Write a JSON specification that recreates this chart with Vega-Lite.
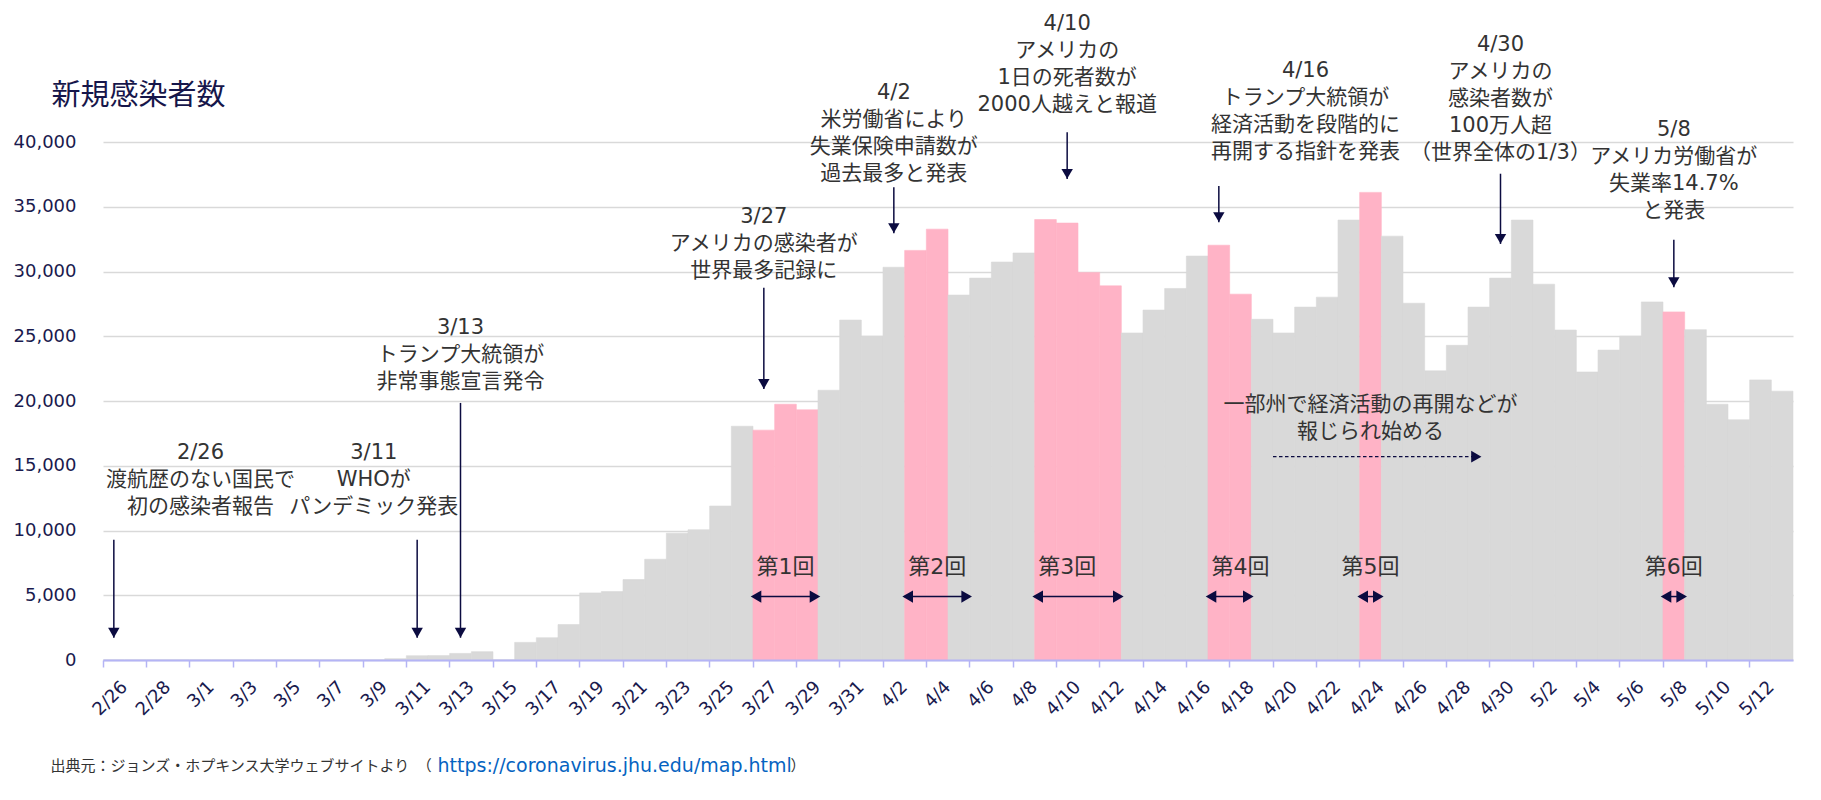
{
  "$schema": "https://vega.github.io/schema/vega-lite/v6.json",
  "width": 1690,
  "height": 518,
  "autosize": {"type": "none"},
  "padding": {"left": 103, "top": 142, "right": 28, "bottom": 140},
  "background": "white",
  "config": {
    "view": {"stroke": null},
    "font": "DejaVu Sans, Noto Sans CJK JP"
  },
  "datasets": {
    "cases": [
      {"date": "2/26", "cases": 0, "period": ""},
      {"date": "2/27", "cases": 0, "period": ""},
      {"date": "2/28", "cases": 0, "period": ""},
      {"date": "2/29", "cases": 0, "period": ""},
      {"date": "3/1", "cases": 0, "period": ""},
      {"date": "3/2", "cases": 0, "period": ""},
      {"date": "3/3", "cases": 0, "period": ""},
      {"date": "3/4", "cases": 0, "period": ""},
      {"date": "3/5", "cases": 0, "period": ""},
      {"date": "3/6", "cases": 0, "period": ""},
      {"date": "3/7", "cases": 0, "period": ""},
      {"date": "3/8", "cases": 0, "period": ""},
      {"date": "3/9", "cases": 0, "period": ""},
      {"date": "3/10", "cases": 100, "period": ""},
      {"date": "3/11", "cases": 330, "period": ""},
      {"date": "3/12", "cases": 340, "period": ""},
      {"date": "3/13", "cases": 510, "period": ""},
      {"date": "3/14", "cases": 640, "period": ""},
      {"date": "3/15", "cases": 0, "period": ""},
      {"date": "3/16", "cases": 1360, "period": ""},
      {"date": "3/17", "cases": 1720, "period": ""},
      {"date": "3/18", "cases": 2740, "period": ""},
      {"date": "3/19", "cases": 5180, "period": ""},
      {"date": "3/20", "cases": 5280, "period": ""},
      {"date": "3/21", "cases": 6210, "period": ""},
      {"date": "3/22", "cases": 7780, "period": ""},
      {"date": "3/23", "cases": 9790, "period": ""},
      {"date": "3/24", "cases": 10060, "period": ""},
      {"date": "3/25", "cases": 11890, "period": ""},
      {"date": "3/26", "cases": 18050, "period": ""},
      {"date": "3/27", "cases": 17750, "period": "第1回"},
      {"date": "3/28", "cases": 19750, "period": "第1回"},
      {"date": "3/29", "cases": 19320, "period": "第1回"},
      {"date": "3/30", "cases": 20830, "period": ""},
      {"date": "3/31", "cases": 26250, "period": ""},
      {"date": "4/1", "cases": 25010, "period": ""},
      {"date": "4/2", "cases": 30330, "period": ""},
      {"date": "4/3", "cases": 31630, "period": "第2回"},
      {"date": "4/4", "cases": 33270, "period": "第2回"},
      {"date": "4/5", "cases": 28180, "period": ""},
      {"date": "4/6", "cases": 29490, "period": ""},
      {"date": "4/7", "cases": 30730, "period": ""},
      {"date": "4/8", "cases": 31430, "period": ""},
      {"date": "4/9", "cases": 34010, "period": "第3回"},
      {"date": "4/10", "cases": 33740, "period": "第3回"},
      {"date": "4/11", "cases": 29930, "period": "第3回"},
      {"date": "4/12", "cases": 28890, "period": "第3回"},
      {"date": "4/13", "cases": 25250, "period": ""},
      {"date": "4/14", "cases": 27020, "period": ""},
      {"date": "4/15", "cases": 28690, "period": ""},
      {"date": "4/16", "cases": 31190, "period": ""},
      {"date": "4/17", "cases": 32030, "period": "第4回"},
      {"date": "4/18", "cases": 28250, "period": "第4回"},
      {"date": "4/19", "cases": 26310, "period": ""},
      {"date": "4/20", "cases": 25250, "period": ""},
      {"date": "4/21", "cases": 27250, "period": ""},
      {"date": "4/22", "cases": 28020, "period": ""},
      {"date": "4/23", "cases": 33970, "period": ""},
      {"date": "4/24", "cases": 36110, "period": "第5回"},
      {"date": "4/25", "cases": 32730, "period": ""},
      {"date": "4/26", "cases": 27550, "period": ""},
      {"date": "4/27", "cases": 22330, "period": ""},
      {"date": "4/28", "cases": 24300, "period": ""},
      {"date": "4/29", "cases": 27250, "period": ""},
      {"date": "4/30", "cases": 29490, "period": ""},
      {"date": "5/1", "cases": 33970, "period": ""},
      {"date": "5/2", "cases": 29020, "period": ""},
      {"date": "5/3", "cases": 25480, "period": ""},
      {"date": "5/4", "cases": 22240, "period": ""},
      {"date": "5/5", "cases": 23930, "period": ""},
      {"date": "5/6", "cases": 25010, "period": ""},
      {"date": "5/7", "cases": 27650, "period": ""},
      {"date": "5/8", "cases": 26880, "period": "第6回"},
      {"date": "5/9", "cases": 25510, "period": ""},
      {"date": "5/10", "cases": 19750, "period": ""},
      {"date": "5/11", "cases": 18550, "period": ""},
      {"date": "5/12", "cases": 21630, "period": ""},
      {"date": "5/13", "cases": 20760, "period": ""}
    ],
    "events": [
      {"event": "2/26", "arrowAt": "2/26", "top": 9280, "tip": 1720, "textAt": "3/1", "textY": 16000, "lines": ["2/26", "渡航歴のない国民で", "初の感染者報告"]},
      {"event": "3/11", "arrowAt": "3/11", "top": 9280, "tip": 1720, "textAt": "3/9", "textY": 16000, "lines": ["3/11", "WHOが", "パンデミック発表"]},
      {"event": "3/13", "arrowAt": "3/13", "top": 19850, "tip": 1720, "textAt": "3/13", "textY": 25660, "lines": ["3/13", "トランプ大統領が", "非常事態宣言発令"]},
      {"event": "3/27", "arrowAt": "3/27", "top": 28750, "tip": 20930, "textAt": "3/27", "textY": 34190, "lines": ["3/27", "アメリカの感染者が", "世界最多記録に"]},
      {"event": "4/2", "arrowAt": "4/2", "top": 36500, "tip": 32960, "textAt": "4/2", "textY": 43800, "lines": ["4/2", "米労働省により", "失業保険申請数が", "過去最多と発表"]},
      {"event": "4/10", "arrowAt": "4/10", "top": 40750, "tip": 37150, "textAt": "4/10", "textY": 49100, "lines": ["4/10", "アメリカの", "1日の死者数が", "2000人越えと報道"]},
      {"event": "4/16", "arrowAt": "4/17", "top": 36610, "tip": 33810, "textAt": "4/21", "textY": 45480, "lines": ["4/16", "トランプ大統領が", "経済活動を段階的に", "再開する指針を発表"]},
      {"event": "4/30", "arrowAt": "4/30", "top": 37550, "tip": 32130, "textAt": "4/30", "textY": 47480, "lines": ["4/30", "アメリカの", "感染者数が", "100万人超", "（世界全体の1/3）"]},
      {"event": "5/8", "arrowAt": "5/8", "top": 32460, "tip": 28790, "textAt": "5/8", "textY": 40890, "lines": ["5/8", "アメリカ労働省が", "失業率14.7%", "と発表"]}
    ],
    "rounds": [
      {"round": "第1回", "start": "3/27", "end": "3/29", "labelAt": "3/28", "arrowY": 4900, "labelY": 7150},
      {"round": "第2回", "start": "4/3", "end": "4/5", "labelAt": "4/4", "arrowY": 4900, "labelY": 7150},
      {"round": "第3回", "start": "4/9", "end": "4/12", "labelAt": "4/10", "arrowY": 4900, "labelY": 7150},
      {"round": "第4回", "start": "4/17", "end": "4/18", "labelAt": "4/18", "arrowY": 4900, "labelY": 7150},
      {"round": "第5回", "start": "4/24", "end": "4/24", "labelAt": "4/24", "arrowY": 4900, "labelY": 7150},
      {"round": "第6回", "start": "5/8", "end": "5/8", "labelAt": "5/8", "arrowY": 4900, "labelY": 7150}
    ],
    "reopen": [
      {"from": "4/20", "to": "4/29", "arrowY": 15700, "textAt": "4/24", "textY": 19710, "lines": ["一部州で経済活動の再開などが", "報じられ始める"]}
    ]
  },
  "layer": [
    {
      "layer": [
        {
          "data": {"name": "cases"},
          "mark": {"type": "bar", "strokeWidth": 0.6},
          "encoding": {
            "x": {
              "field": "date",
              "type": "ordinal",
              "scale": {
                "domain": ["2/26","2/27","2/28","2/29","3/1","3/2","3/3","3/4","3/5","3/6","3/7","3/8","3/9","3/10","3/11","3/12","3/13","3/14","3/15","3/16","3/17","3/18","3/19","3/20","3/21","3/22","3/23","3/24","3/25","3/26","3/27","3/28","3/29","3/30","3/31","4/1","4/2","4/3","4/4","4/5","4/6","4/7","4/8","4/9","4/10","4/11","4/12","4/13","4/14","4/15","4/16","4/17","4/18","4/19","4/20","4/21","4/22","4/23","4/24","4/25","4/26","4/27","4/28","4/29","4/30","5/1","5/2","5/3","5/4","5/5","5/6","5/7","5/8","5/9","5/10","5/11","5/12","5/13"],
                "paddingInner": 0,
                "paddingOuter": 0
              },
              "axis": {
                "values": ["2/26","2/28","3/1","3/3","3/5","3/7","3/9","3/11","3/13","3/15","3/17","3/19","3/21","3/23","3/25","3/27","3/29","3/31","4/2","4/4","4/6","4/8","4/10","4/12","4/14","4/16","4/18","4/20","4/22","4/24","4/26","4/28","4/30","5/2","5/4","5/6","5/8","5/10","5/12"],
                "bandPosition": 0,
                "labelOffset": 11,
                "labelAngle": -45,
                "labelAlign": "right",
                "labelBaseline": "middle",
                "labelPadding": 17,
                "labelOverlap": false,
                "labelFont": "DejaVu Sans",
                "labelFontSize": 18,
                "labelColor": "#1a1a4e",
                "tickSize": 7,
                "tickWidth": 1.5,
                "tickColor": "#b4b4f5",
                "domainColor": "#b4b4f5",
                "domainWidth": 2,
                "grid": false,
                "zindex": 1,
                "title": "出典元：ジョンズ・ホプキンス大学ウェブサイトより　（",
                "titleX": -53,
                "titleY": 105,
                "titleAngle": 0,
                "titleAlign": "left",
                "titleBaseline": "middle",
                "titleFont": "Noto Sans CJK JP",
                "titleFontSize": 15,
                "titleFontWeight": "normal",
                "titleColor": "#333333"
              }
            },
            "y": {
              "field": "cases",
              "type": "quantitative",
              "scale": {"domain": [0, 40000], "nice": false},
              "axis": {
                "values": [0, 5000, 10000, 15000, 20000, 25000, 30000, 35000, 40000],
                "format": ",d",
                "labelFont": "DejaVu Sans",
                "labelFontSize": 18,
                "labelColor": "#1a1a4e",
                "labelPadding": 27,
                "ticks": false,
                "tickSize": 0,
                "domain": false,
                "grid": true,
                "gridColor": "#d9d9d9",
                "gridWidth": 1.5,
                "title": "新規感染者数",
                "titleX": -52,
                "titleY": -47,
                "titleAngle": 0,
                "titleAlign": "left",
                "titleBaseline": "middle",
                "titleFont": "Noto Sans CJK JP",
                "titleFontSize": 29,
                "titleFontWeight": "normal",
                "titleColor": "#16164a"
              }
            },
            "fill": {"condition": {"test": "datum.period !== ''", "value": "#ffb3c6"}, "value": "#d9d9d9"},
            "stroke": {"condition": {"test": "datum.period !== ''", "value": "#ffb3c6"}, "value": "#d9d9d9"}
          }
        },
        {
          "data": {"name": "events"},
          "mark": {"type": "rule", "color": "#0b0b40", "strokeWidth": 1.5},
          "encoding": {
            "x": {"field": "arrowAt", "type": "ordinal"},
            "y": {"field": "top", "type": "quantitative"},
            "y2": {"field": "tip"}
          }
        },
        {
          "data": {"name": "events"},
          "mark": {"type": "point", "shape": "triangle-down", "filled": true, "size": 130, "color": "#0b0b40", "opacity": 1, "yOffset": -5},
          "encoding": {
            "x": {"field": "arrowAt", "type": "ordinal"},
            "y": {"field": "tip", "type": "quantitative"}
          }
        },
        {
          "data": {"name": "events"},
          "mark": {"type": "text", "fontSize": 21, "lineHeight": 27, "align": "center", "baseline": "middle", "color": "#333333", "font": "DejaVu Sans, Noto Sans CJK JP"},
          "encoding": {
            "x": {"field": "textAt", "type": "ordinal"},
            "y": {"field": "textY", "type": "quantitative"},
            "text": {"field": "lines", "type": "nominal"}
          }
        },
        {
          "data": {"name": "rounds"},
          "mark": {"type": "rule", "color": "#0b0b40", "strokeWidth": 1.5},
          "encoding": {
            "x": {"field": "start", "type": "ordinal", "bandPosition": 0},
            "x2": {"field": "end", "bandPosition": 1},
            "y": {"field": "arrowY", "type": "quantitative"}
          }
        },
        {
          "data": {"name": "rounds"},
          "mark": {"type": "point", "shape": "triangle-left", "filled": true, "size": 150, "color": "#0b0b40", "opacity": 1, "xOffset": 3},
          "encoding": {
            "x": {"field": "start", "type": "ordinal", "bandPosition": 0},
            "y": {"field": "arrowY", "type": "quantitative"}
          }
        },
        {
          "data": {"name": "rounds"},
          "mark": {"type": "point", "shape": "triangle-right", "filled": true, "size": 150, "color": "#0b0b40", "opacity": 1, "xOffset": -3},
          "encoding": {
            "x": {"field": "end", "type": "ordinal", "bandPosition": 1},
            "y": {"field": "arrowY", "type": "quantitative"}
          }
        },
        {
          "data": {"name": "rounds"},
          "mark": {"type": "text", "fontSize": 22, "align": "center", "baseline": "middle", "color": "#333333", "font": "DejaVu Sans, Noto Sans CJK JP"},
          "encoding": {
            "x": {"field": "labelAt", "type": "ordinal"},
            "y": {"field": "labelY", "type": "quantitative"},
            "text": {"field": "round", "type": "nominal"}
          }
        }
      ]
    },
    {
      "data": {"name": "reopen"},
      "layer": [
        {
          "mark": {"type": "rule", "color": "#0b0b40", "strokeWidth": 1.2, "strokeDash": [3.5, 2.5]},
          "encoding": {
            "x": {
              "field": "from",
              "type": "ordinal",
              "bandPosition": 0,
              "scale": {
                "domain": ["2/26","2/27","2/28","2/29","3/1","3/2","3/3","3/4","3/5","3/6","3/7","3/8","3/9","3/10","3/11","3/12","3/13","3/14","3/15","3/16","3/17","3/18","3/19","3/20","3/21","3/22","3/23","3/24","3/25","3/26","3/27","3/28","3/29","3/30","3/31","4/1","4/2","4/3","4/4","4/5","4/6","4/7","4/8","4/9","4/10","4/11","4/12","4/13","4/14","4/15","4/16","4/17","4/18","4/19","4/20","4/21","4/22","4/23","4/24","4/25","4/26","4/27","4/28","4/29","4/30","5/1","5/2","5/3","5/4","5/5","5/6","5/7","5/8","5/9","5/10","5/11","5/12","5/13"],
                "paddingInner": 0,
                "paddingOuter": 0
              },
              "axis": {
                "orient": "top",
                "labels": false,
                "ticks": false,
                "domain": false,
                "grid": false,
                "title": "https://coronavirus.jhu.edu/map.html",
                "titleX": 334,
                "titleY": 623,
                "titleAngle": 0,
                "titleAlign": "left",
                "titleBaseline": "middle",
                "titleFont": "DejaVu Sans",
                "titleFontSize": 19,
                "titleFontWeight": "normal",
                "titleColor": "#0563c1"
              }
            },
            "x2": {"field": "to", "bandPosition": 0.5},
            "y": {
              "field": "arrowY",
              "type": "quantitative",
              "scale": {"domain": [0, 40000], "nice": false},
              "axis": {
                "orient": "right",
                "labels": false,
                "ticks": false,
                "domain": false,
                "grid": false,
                "title": "）",
                "titleX": -1003,
                "titleY": 623,
                "titleAngle": 0,
                "titleAlign": "left",
                "titleBaseline": "middle",
                "titleFont": "Noto Sans CJK JP",
                "titleFontSize": 15,
                "titleFontWeight": "normal",
                "titleColor": "#333333"
              }
            }
          }
        },
        {
          "mark": {"type": "point", "shape": "triangle-right", "filled": true, "size": 140, "color": "#0b0b40", "opacity": 1, "xOffset": -2.5},
          "encoding": {
            "x": {"field": "to", "type": "ordinal", "bandPosition": 0.5},
            "y": {"field": "arrowY", "type": "quantitative"}
          }
        },
        {
          "mark": {"type": "text", "fontSize": 21, "lineHeight": 27, "align": "center", "baseline": "middle", "color": "#333333", "font": "DejaVu Sans, Noto Sans CJK JP"},
          "encoding": {
            "x": {"field": "textAt", "type": "ordinal"},
            "y": {"field": "textY", "type": "quantitative"},
            "text": {"field": "lines", "type": "nominal"}
          }
        }
      ]
    }
  ],
  "resolve": {
    "scale": {"x": "independent", "y": "independent"},
    "axis": {"x": "independent", "y": "independent"}
  }
}
